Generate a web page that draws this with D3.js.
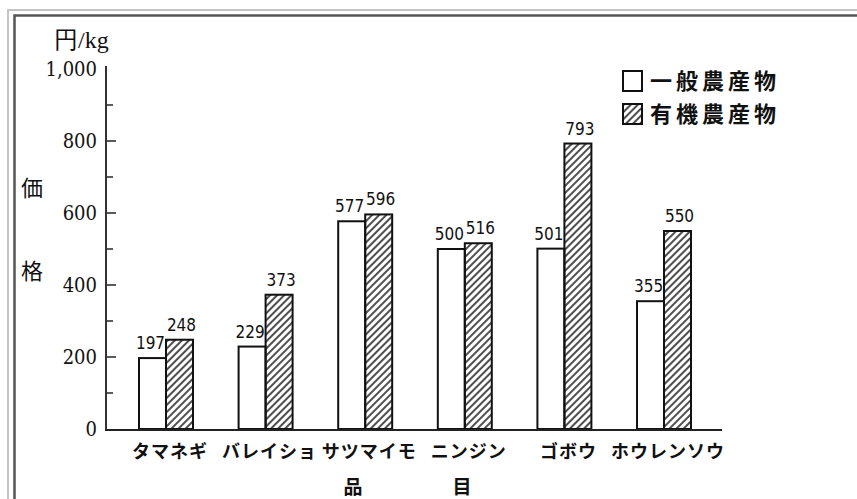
<!DOCTYPE html>
<html>
<head>
<meta charset="utf-8">
<script src="https://cdn.jsdelivr.net/npm/d3@7"></script>
<style>
  body { margin: 0; background: #fff; }
  svg { display: block; }
</style>
</head>
<body>
<svg></svg>
<script>
const width = 857;
const height = 499;

// data
const categories = ["タマネギ", "バレイショ", "サツマイモ", "ニンジン", "ゴボウ", "ホウレンソウ"];
const seriesNames = ["一般農産物", "有機農産物"];
const general = [197, 229, 577, 500, 501, 355];
const organic = [248, 373, 596, 516, 793, 550];
const yTicks = [0, 200, 400, 600, 800, 1000];

const svg = d3.select("svg")
    .attr("width", width)
    .attr("height", height);

const defs = svg.append("defs");
defs.append("pattern")
    .attr("id", "hatch")
    .attr("patternUnits", "userSpaceOnUse")
    .attr("width", 5)
    .attr("height", 5)
    .attr("patternTransform", "rotate(45)")
    .append("line")
    .attr("x1", 1).attr("y1", 0)
    .attr("x2", 1).attr("y2", 5)
    .attr("stroke", "#222")
    .attr("stroke-width", 1.6);

// frame
svg.append("path")
    .attr("d", `M8,${height} V10 H${width}`)
    .attr("fill", "none")
    .attr("stroke", "#c4c4c4")
    .attr("stroke-width", 2);
svg.append("path")
    .attr("d", `M14.5,${height} V15.5 H${width}`)
    .attr("fill", "none")
    .attr("stroke", "#555")
    .attr("stroke-width", 2.5);

const x = d3.scaleBand()
    .domain(categories)
    .range([139, 691])
    .paddingInner(0.458)
    .paddingOuter(0);

const xSub = d3.scaleBand()
    .domain([0, 1])
    .range([0, x.bandwidth()]);

const y = d3.scaleLinear()
    .domain([0, 1000])
    .range([429, 69]);

// axis
const axisX = 106;
svg.append("line")
    .attr("x1", axisX).attr("x2", axisX)
    .attr("y1", 66).attr("y2", y(0))
    .attr("stroke", "#333")
    .attr("stroke-width", 2);

svg.selectAll(".tick")
    .data(d3.range(100, 1000, 100))
    .enter().append("line")
    .attr("x1", axisX)
    .attr("x2", d => d % 200 === 0 ? axisX + 10 : axisX + 7)
    .attr("y1", d => y(d))
    .attr("y2", d => y(d))
    .attr("stroke", "#333")
    .attr("stroke-width", 1.6);

svg.selectAll(".ylab")
    .data(yTicks)
    .enter().append("text")
    .attr("x", 97)
    .attr("y", d => y(d) + 7)
    .attr("text-anchor", "end")
    .attr("font-family", "DejaVu Serif Condensed")
    .attr("font-size", 20)
    .attr("fill", "#111")
    .text(d3.format(","));

svg.append("text")
    .attr("x", 54)
    .attr("y", 48)
    .attr("font-family", "Liberation Serif")
    .attr("font-size", 24)
    .attr("fill", "#111")
    .text("円/kg");

svg.selectAll(".ytitle")
    .data([["価", 196], ["格", 279]])
    .enter().append("text")
    .attr("x", 32)
    .attr("y", d => d[1])
    .attr("text-anchor", "middle")
    .attr("font-family", "Noto Sans CJK JP")
    .attr("font-size", 22)
    .attr("fill", "#111")
    .text(d => d[0]);

// bars
const groups = svg.selectAll(".grp")
    .data(categories)
    .enter().append("g")
    .attr("transform", d => `translate(${x(d)},0)`);

const pairs = categories.map((c, i) => [general[i], organic[i]]);

groups.selectAll("rect")
    .data((d, i) => pairs[i])
    .enter().append("rect")
    .attr("x", (d, j) => xSub(j))
    .attr("y", d => y(d))
    .attr("width", xSub.bandwidth())
    .attr("height", d => y(0) - y(d))
    .attr("fill", (d, j) => j === 0 ? "#fff" : "url(#hatch)")
    .attr("stroke", "#111")
    .attr("stroke-width", 2);

groups.selectAll(".val")
    .data((d, i) => pairs[i])
    .enter().append("text")
    .attr("x", (d, j) => xSub(j) + xSub.bandwidth() / 2 + (j === 0 ? -2 : 2))
    .attr("y", d => y(d) - 9)
    .attr("text-anchor", "middle")
    .attr("font-family", "DejaVu Sans Condensed")
    .attr("font-size", 17)
    .attr("fill", "#111")
    .text(d => d);

// baseline
svg.append("line")
    .attr("x1", axisX - 1).attr("x2", 722)
    .attr("y1", y(0) + 1).attr("y2", y(0) + 1)
    .attr("stroke", "#222")
    .attr("stroke-width", 2);

// category labels
svg.selectAll(".cat")
    .data(categories)
    .enter().append("text")
    .attr("x", d => x(d) + x.bandwidth() / 2 + 4)
    .attr("y", 458)
    .attr("text-anchor", "middle")
    .attr("font-family", "Noto Sans CJK JP")
    .attr("font-weight", "bold")
    .attr("font-size", 18)
    .attr("letter-spacing", 1)
    .attr("fill", "#111")
    .text(d => d);

svg.selectAll(".xtitle")
    .data([["品", 353], ["目", 462]])
    .enter().append("text")
    .attr("x", d => d[1])
    .attr("y", 494)
    .attr("text-anchor", "middle")
    .attr("font-family", "Noto Sans CJK JP")
    .attr("font-weight", "bold")
    .attr("font-size", 19)
    .attr("fill", "#111")
    .text(d => d[0]);

// legend
const legend = svg.selectAll(".leg")
    .data(seriesNames)
    .enter().append("g")
    .attr("transform", (d, i) => `translate(623,${71 + i * 33})`);

legend.append("rect")
    .attr("width", 19)
    .attr("height", 20)
    .attr("fill", (d, i) => i === 0 ? "#fff" : "url(#hatch)")
    .attr("stroke", "#111")
    .attr("stroke-width", 2);

legend.append("text")
    .attr("x", 27)
    .attr("y", 18)
    .attr("font-family", "Noto Sans CJK JP")
    .attr("font-weight", "bold")
    .attr("font-size", 22)
    .attr("letter-spacing", 4)
    .attr("fill", "#111")
    .text(d => d);
</script>
</body>
</html>
